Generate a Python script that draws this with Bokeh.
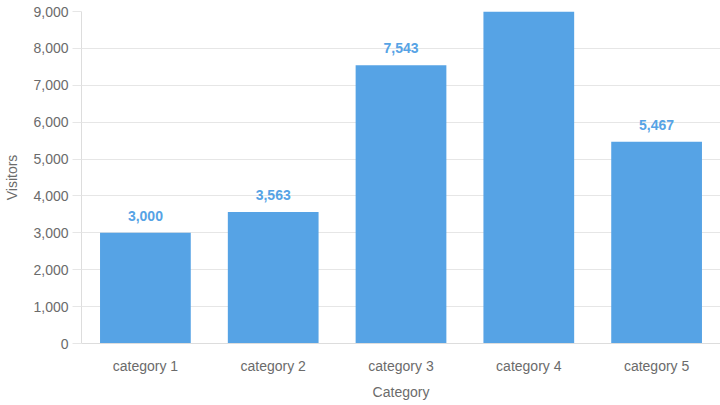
from bokeh.plotting import figure
from bokeh.models import ColumnDataSource, FactorRange, Range1d, NumeralTickFormatter, SingleIntervalTicker
from bokeh.core.properties import value
from bokeh.embed import file_html
from bokeh.resources import INLINE

categories = ["category 1", "category 2", "category 3", "category 4", "category 5"]
visitors = [3000, 3563, 7543, 9000, 5467]

BAR = "#56a3e5"
TEXT = "#6b6b6b"
FONT = "Liberation Sans"

src = ColumnDataSource(dict(
    cat=categories,
    v=visitors,
    lbl=[f"{x:,}" for x in visitors],
))

p = figure(
    width=720, height=405,
    x_range=FactorRange(*categories, range_padding=0),
    y_range=Range1d(0, 9000),
    output_backend="svg", toolbar_location=None,
    min_border_left=81, min_border_right=0, min_border_top=11, min_border_bottom=62,
)
p.outline_line_color = None
p.background_fill_color = "white"
p.border_fill_color = "white"

p.vbar(x="cat", top="v", width=0.71, source=src, fill_color=BAR, line_color=None)
p.text(x="cat", y="v", text="lbl", source=src, y_offset=-12,
       text_align="center", text_baseline="bottom",
       text_font=value(FONT), text_font_style="bold", text_font_size="14px",
       text_color=BAR)

p.xgrid.grid_line_color = None
p.ygrid.grid_line_color = "#e6e6e6"
p.ygrid.ticker = SingleIntervalTicker(interval=1000)

ya = p.yaxis[0]
ya.ticker = SingleIntervalTicker(interval=1000)
ya.formatter = NumeralTickFormatter(format="0,0")
ya.axis_line_color = "#dddddd"
ya.major_tick_line_color = "#e6e6e6"
ya.major_tick_out = 9
ya.major_tick_in = 0
ya.minor_tick_line_color = None
ya.major_label_standoff = 4
ya.major_label_text_font = FONT
ya.major_label_text_font_size = "14px"
ya.major_label_text_color = TEXT
ya.axis_label = "Visitors"
ya.axis_label_text_font = FONT
ya.axis_label_text_font_size = "14px"
ya.axis_label_text_font_style = "normal"
ya.axis_label_text_color = TEXT
ya.axis_label_standoff = 10

xa = p.xaxis[0]
xa.axis_line_color = "#dddddd"
xa.major_tick_line_color = None
xa.major_tick_out = 0
xa.major_tick_in = 0
xa.major_label_standoff = 14
xa.major_label_text_font = FONT
xa.major_label_text_font_size = "14px"
xa.major_label_text_color = TEXT
xa.axis_label = "Category"
xa.axis_label_text_font = FONT
xa.axis_label_text_font_size = "14px"
xa.axis_label_text_font_style = "normal"
xa.axis_label_text_color = TEXT
xa.axis_label_standoff = 7

open("out.html", "w").write(file_html(p, INLINE))
